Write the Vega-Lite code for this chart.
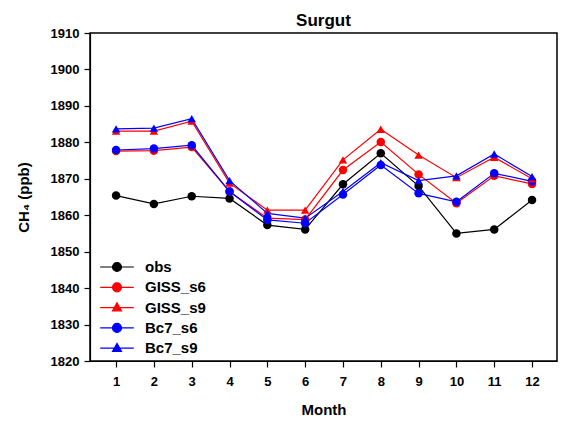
{
  "$schema": "https://vega.github.io/schema/vega-lite/v6.json",
  "width": 467,
  "height": 328,
  "autosize": {"type": "none"},
  "padding": {"left": 90, "top": 33, "right": 10, "bottom": 61},
  "background": "white",
  "config": {
    "font": "Liberation Sans",
    "view": {"stroke": "black", "strokeWidth": 1.5},
    "axis": {"grid": false, "domainColor": "black", "tickColor": "black", "labelColor": "black", "titleColor": "black", "labelFont": "Liberation Sans", "titleFont": "Liberation Sans", "labelFontWeight": "bold", "titleFontWeight": "bold", "labelFontSize": 13, "titleFontSize": 15, "tickSize": 6, "domainWidth": 1.2, "tickWidth": 1.2}
  },
  "title": {"text": "Surgut", "fontSize": 17, "fontWeight": "bold", "font": "Liberation Sans", "color": "black", "offset": -3, "frame": "group"},
  "data": {"values": [
    {"month": 1, "series": "obs", "value": 1865.4},
    {"month": 2, "series": "obs", "value": 1863.1},
    {"month": 3, "series": "obs", "value": 1865.2},
    {"month": 4, "series": "obs", "value": 1864.6},
    {"month": 5, "series": "obs", "value": 1857.3},
    {"month": 6, "series": "obs", "value": 1856.1},
    {"month": 7, "series": "obs", "value": 1868.5},
    {"month": 8, "series": "obs", "value": 1877.0},
    {"month": 9, "series": "obs", "value": 1868.0},
    {"month": 10, "series": "obs", "value": 1855.0},
    {"month": 11, "series": "obs", "value": 1856.1},
    {"month": 12, "series": "obs", "value": 1864.2},
    {"month": 1, "series": "GISS_s6", "value": 1877.6},
    {"month": 2, "series": "GISS_s6", "value": 1877.7},
    {"month": 3, "series": "GISS_s6", "value": 1878.7},
    {"month": 4, "series": "GISS_s6", "value": 1866.5},
    {"month": 5, "series": "GISS_s6", "value": 1859.2},
    {"month": 6, "series": "GISS_s6", "value": 1858.8},
    {"month": 7, "series": "GISS_s6", "value": 1872.4},
    {"month": 8, "series": "GISS_s6", "value": 1880.1},
    {"month": 9, "series": "GISS_s6", "value": 1871.2},
    {"month": 10, "series": "GISS_s6", "value": 1863.3},
    {"month": 11, "series": "GISS_s6", "value": 1870.8},
    {"month": 12, "series": "GISS_s6", "value": 1868.6},
    {"month": 1, "series": "GISS_s9", "value": 1883.1},
    {"month": 2, "series": "GISS_s9", "value": 1883.1},
    {"month": 3, "series": "GISS_s9", "value": 1885.8},
    {"month": 4, "series": "GISS_s9", "value": 1868.8},
    {"month": 5, "series": "GISS_s9", "value": 1861.4},
    {"month": 6, "series": "GISS_s9", "value": 1861.4},
    {"month": 7, "series": "GISS_s9", "value": 1875.2},
    {"month": 8, "series": "GISS_s9", "value": 1883.6},
    {"month": 9, "series": "GISS_s9", "value": 1876.5},
    {"month": 10, "series": "GISS_s9", "value": 1870.3},
    {"month": 11, "series": "GISS_s9", "value": 1875.9},
    {"month": 12, "series": "GISS_s9", "value": 1870.0},
    {"month": 1, "series": "Bc7_s6", "value": 1877.9},
    {"month": 2, "series": "Bc7_s6", "value": 1878.3},
    {"month": 3, "series": "Bc7_s6", "value": 1879.2},
    {"month": 4, "series": "Bc7_s6", "value": 1866.5},
    {"month": 5, "series": "Bc7_s6", "value": 1858.7},
    {"month": 6, "series": "Bc7_s6", "value": 1857.8},
    {"month": 7, "series": "Bc7_s6", "value": 1865.7},
    {"month": 8, "series": "Bc7_s6", "value": 1873.8},
    {"month": 9, "series": "Bc7_s6", "value": 1866.0},
    {"month": 10, "series": "Bc7_s6", "value": 1863.7},
    {"month": 11, "series": "Bc7_s6", "value": 1871.5},
    {"month": 12, "series": "Bc7_s6", "value": 1869.3},
    {"month": 1, "series": "Bc7_s9", "value": 1883.7},
    {"month": 2, "series": "Bc7_s9", "value": 1883.9},
    {"month": 3, "series": "Bc7_s9", "value": 1886.5},
    {"month": 4, "series": "Bc7_s9", "value": 1869.5},
    {"month": 5, "series": "Bc7_s9", "value": 1860.5},
    {"month": 6, "series": "Bc7_s9", "value": 1859.2},
    {"month": 7, "series": "Bc7_s9", "value": 1866.5},
    {"month": 8, "series": "Bc7_s9", "value": 1874.4},
    {"month": 9, "series": "Bc7_s9", "value": 1869.5},
    {"month": 10, "series": "Bc7_s9", "value": 1870.8},
    {"month": 11, "series": "Bc7_s9", "value": 1876.8},
    {"month": 12, "series": "Bc7_s9", "value": 1870.6}
  ]},
  "encoding": {
    "x": {"field": "month", "type": "quantitative", "scale": {"domain": [0.31, 12.66], "nice": false, "zero": false},
      "axis": {"values": [1,2,3,4,5,6,7,8,9,10,11,12], "title": "Month", "labelPadding": 8, "titlePadding": 14, "labelFlush": false}},
    "y": {"field": "value", "type": "quantitative", "scale": {"domain": [1820, 1910], "nice": false, "zero": false},
      "axis": {"values": [1820,1830,1840,1850,1860,1870,1880,1890,1900,1910], "format": "d", "title": "CH₄ (ppb)", "labelPadding": 5, "titlePadding": 19, "labelFlush": false}}
  },
  "layer": [
    {"mark": {"type": "line", "strokeWidth": 1.2},
      "encoding": {"color": {"field": "series", "type": "nominal",
        "scale": {"range": ["#0000ff", "#0000ff", "#ff0000", "#ff0000", "black"]},
        "legend": null}}},
    {"transform": [{"filter": {"field": "series", "oneOf": ["obs", "GISS_s6", "Bc7_s6"]}}],
      "mark": {"type": "point", "shape": "circle", "filled": true, "size": 72, "opacity": 1},
      "encoding": {"color": {"field": "series", "type": "nominal", "legend": null}}},
    {"transform": [{"filter": {"field": "series", "oneOf": ["GISS_s9", "Bc7_s9"]}}],
      "mark": {"type": "point", "shape": "triangle-up", "filled": true, "size": 72, "opacity": 1},
      "encoding": {"color": {"field": "series", "type": "nominal", "legend": null}}},
    {"mark": {"type": "point", "opacity": 0, "strokeWidth": 1},
      "encoding": {
        "fill": {"field": "series", "type": "nominal",
          "scale": {"domain": ["obs", "GISS_s6", "GISS_s9", "Bc7_s6", "Bc7_s9"], "range": ["black", "#ff0000", "#ff0000", "#0000ff", "#0000ff"]},
          "legend": {"title": null, "orient": "none", "legendX": 18, "legendY": 225, "symbolSize": 256, "symbolOpacity": 1, "symbolStrokeWidth": 1.2, "labelFontSize": 15, "labelFontWeight": "bold", "labelColor": "black", "labelOffset": 19, "rowPadding": 3.3, "padding": 0}},
        "stroke": {"field": "series", "type": "nominal",
          "scale": {"domain": ["obs", "GISS_s6", "GISS_s9", "Bc7_s6", "Bc7_s9"], "range": ["black", "#ff0000", "#ff0000", "#0000ff", "#0000ff"]},
          "legend": {"title": null, "orient": "none", "legendX": 18, "legendY": 225, "symbolSize": 256, "symbolOpacity": 1, "symbolStrokeWidth": 1.2, "labelFontSize": 15, "labelFontWeight": "bold", "labelColor": "black", "labelOffset": 19, "rowPadding": 3.3, "padding": 0}},
        "shape": {"field": "series", "type": "nominal",
          "scale": {"domain": ["obs", "GISS_s6", "GISS_s9", "Bc7_s6", "Bc7_s9"], "range": [
            "M-2.1,0H2.1M-0.56,0A0.56,0.56 0 1 1 0.56,0A0.56,0.56 0 1 1 -0.56,0Z",
            "M-2.1,0H2.1M-0.56,0A0.56,0.56 0 1 1 0.56,0A0.56,0.56 0 1 1 -0.56,0Z",
            "M-2.1,0H2.1M0,-0.6L0.56,0.4L-0.56,0.4Z",
            "M-2.1,0H2.1M-0.56,0A0.56,0.56 0 1 1 0.56,0A0.56,0.56 0 1 1 -0.56,0Z",
            "M-2.1,0H2.1M0,-0.6L0.56,0.4L-0.56,0.4Z"]},
          "legend": {"title": null, "orient": "none", "legendX": 18, "legendY": 225, "symbolSize": 256, "symbolOpacity": 1, "symbolStrokeWidth": 1.2, "labelFontSize": 15, "labelFontWeight": "bold", "labelColor": "black", "labelOffset": 19, "rowPadding": 3.3, "padding": 0}}
      }}
  ]
}
